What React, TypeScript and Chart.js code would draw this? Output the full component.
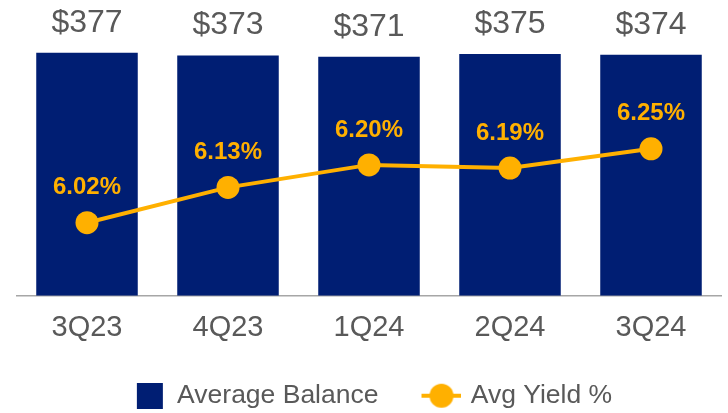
import React, { useEffect, useRef } from 'react';
import { Chart, registerables } from 'chart.js';

Chart.register(...registerables);

const categories = ['3Q23', '4Q23', '1Q24', '2Q24', '3Q24'];
const averageBalance = [377, 373, 371, 375, 374];
const avgYield = [6.02, 6.13, 6.2, 6.19, 6.25];
const balanceLabels = ['$377', '$373', '$371', '$375', '$374'];
const yieldLabels = ['6.02%', '6.13%', '6.20%', '6.19%', '6.25%'];

const NAVY = '#001E73';
const GOLD = '#FFB000';
const TEXT = '#595959';
const FONT = '"Liberation Sans", Arial, sans-serif';

function makeSquareIcon(): HTMLCanvasElement {
  const c = document.createElement('canvas');
  c.width = 46;
  c.height = 26;
  const g = c.getContext('2d')!;
  g.fillStyle = NAVY;
  g.fillRect(19, 0, 26, 26);
  return c;
}

function makeLineIcon(): HTMLCanvasElement {
  const c = document.createElement('canvas');
  c.width = 54;
  c.height = 26;
  const g = c.getContext('2d')!;
  g.strokeStyle = GOLD;
  g.lineWidth = 4;
  g.beginPath();
  g.moveTo(14, 13);
  g.lineTo(54, 13);
  g.stroke();
  g.fillStyle = GOLD;
  g.beginPath();
  g.arc(34, 13, 12, 0, Math.PI * 2);
  g.fill();
  return c;
}

const valueLabels = {
  id: 'valueLabels',
  afterDatasetsDraw(chart: any) {
    const ctx = chart.ctx;
    ctx.save();
    ctx.textAlign = 'center';
    ctx.textBaseline = 'middle';
    const barMeta = chart.getDatasetMeta(0);
    ctx.font = `32px ${FONT}`;
    ctx.fillStyle = TEXT;
    barMeta.data.forEach((el: any, i: number) => {
      ctx.fillText(balanceLabels[i], el.x, el.y - 30);
    });
    const lineMeta = chart.getDatasetMeta(1);
    ctx.font = `bold 24px ${FONT}`;
    ctx.fillStyle = GOLD;
    lineMeta.data.forEach((el: any, i: number) => {
      ctx.fillText(yieldLabels[i], el.x, el.y - 35);
    });
    ctx.restore();
  },
};

export default function App() {
  const ref = useRef<HTMLCanvasElement>(null);

  useEffect(() => {
    document.body.style.margin = '0';
    const squareIcon = makeSquareIcon();
    const lineIcon = makeLineIcon();
    const chart = new Chart(ref.current!, {
      type: 'bar',
      data: {
        labels: categories,
        datasets: [
          {
            type: 'bar',
            label: 'Average Balance',
            data: averageBalance,
            backgroundColor: NAVY,
            yAxisID: 'y',
            order: 1,
            categoryPercentage: 1,
            barPercentage: 0.72,
          },
          {
            type: 'line',
            label: 'Avg Yield %',
            data: avgYield,
            borderColor: GOLD,
            backgroundColor: GOLD,
            borderWidth: 4,
            pointRadius: 11.5,
            pointHoverRadius: 11.5,
            pointBackgroundColor: GOLD,
            pointBorderWidth: 0,
            yAxisID: 'y1',
            order: 0,
            clip: false,
          } as any,
        ],
      },
      options: {
        animation: false,
        responsive: true,
        maintainAspectRatio: false,
        layout: { autoPadding: false, padding: { left: 8.5, right: 6.5, top: 0, bottom: -6 } },
        plugins: {
          tooltip: { enabled: false },
          legend: {
            position: 'bottom',
            labels: {
              usePointStyle: true,
              pointStyleWidth: 46,
              boxHeight: 26,
              padding: 33,
              color: TEXT,
              font: { size: 26.5, family: FONT },
              sort: (a: any, b: any) => a.datasetIndex - b.datasetIndex,
              generateLabels: (ch: any) => {
                const items = Chart.defaults.plugins.legend.labels.generateLabels(ch);
                return items.map((it: any) => ({
                  ...it,
                  pointStyle: it.datasetIndex === 0 ? squareIcon : lineIcon,
                }));
              },
            },
          },
        },
        scales: {
          x: {
            grid: { display: false, drawTicks: false },
            border: { display: true, color: '#A6A6A6', width: 1.5 },
            ticks: { color: TEXT, font: { size: 29, family: FONT }, padding: 15 },
            afterFit: (scale: any) => {
              scale.height -= 11;
            },
          },
          y: {
            display: true,
            min: 0,
            max: 459,
            grid: { display: false, drawTicks: false },
            border: { display: false },
            ticks: { display: false },
            afterFit: (scale: any) => {
              scale.width = 8;
            },
          },
          y1: { display: false, min: 5.793, max: 6.713, position: 'right' },
        },
      },
      plugins: [valueLabels],
    });
    return () => chart.destroy();
  }, []);

  return (
    <div style={{ width: 728, height: 413, position: 'relative' }}>
      <canvas ref={ref} />
    </div>
  );
}
